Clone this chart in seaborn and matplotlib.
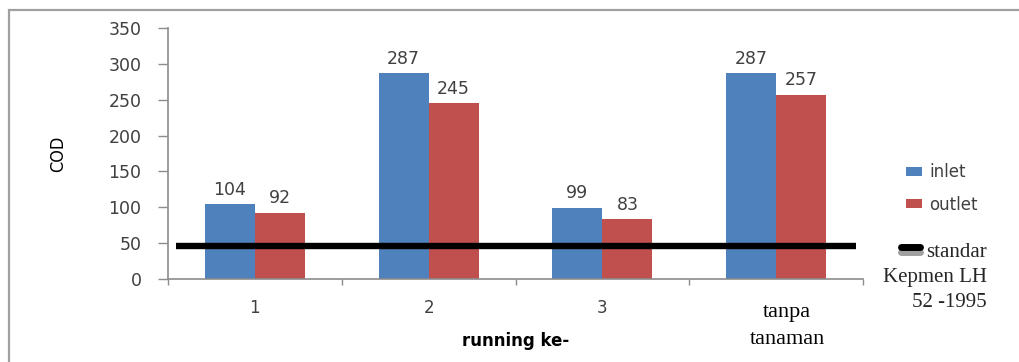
import matplotlib
matplotlib.use("Agg")
import matplotlib.pyplot as plt
import matplotlib.transforms as mtransforms
from matplotlib.lines import Line2D
from matplotlib.patches import Patch, Rectangle
import pandas as pd
import seaborn as sns

# COD measurements per run
runs = ["1", "2", "3", "tanpa\ntanaman"]
inlet = [104, 287, 99, 287]
outlet = [92, 245, 83, 257]
series_names = ["inlet", "outlet"]
standard_value = 46
standard_label = ["standar", "Kepmen LH", "52 -1995"]
y_ticks = [0, 50, 100, 150, 200, 250, 300, 350]

blue = "#4F81BD"
red = "#C0504D"
text_gray = "#404040"
axis_gray = "#8C8C8C"

df = pd.DataFrame({
    "running": runs * 2,
    "COD": inlet + outlet,
    "titik": [series_names[0]] * len(runs) + [series_names[1]] * len(runs),
})

sns.set_style("white")
plt.rcParams["font.family"] = ["DejaVu Sans"]

W, H = 1019, 362
fig = plt.figure(figsize=(W / 100, H / 100), dpi=100)
ax = fig.add_axes([168 / W, 1 - 278.5 / H, (863 - 168) / W, (278.5 - 28.3) / H])

sns.barplot(data=df, x="running", y="COD", hue="titik", order=runs,
            hue_order=series_names, palette=[blue, red], width=0.576,
            gap=0, saturation=1, linewidth=0, ax=ax, legend=False)

for cont in ax.containers:
    ax.bar_label(cont, padding=4, fontsize=12.5, color=text_gray)

# standard limit line
ax.plot([-0.455, 3.458], [standard_value, standard_value], color="black",
        lw=4.6, solid_capstyle="butt", clip_on=False, zorder=5)

ax.set_xlim(-0.5, 3.5)
ax.set_ylim(0, 350)
ax.set_yticks(y_ticks)
ax.tick_params(axis="y", which="major", length=7, width=1, color=axis_gray,
               direction="out", pad=12, labelsize=12.5, labelcolor=text_gray, left=True)

# category labels at centres, tick marks on boundaries
ax.set_xticks([-0.5, 0.5, 1.5, 2.5, 3.5])
ax.set_xticklabels([])
ax.set_xticks(range(len(runs)), minor=True)
ax.set_xticklabels(runs, minor=True)
ax.tick_params(axis="x", which="major", length=4, width=1, color=axis_gray,
               direction="out", bottom=True)
ax.tick_params(axis="x", which="minor", length=0, pad=15, labelsize=12,
               labelcolor=text_gray)
last = ax.get_xticklabels(minor=True)[-1]
last.set_fontfamily("Liberation Serif")
last.set_fontsize(16)
last.set_color("black")
last.set_linespacing(1.55)
last.set_transform(last.get_transform() +
                   mtransforms.ScaledTranslation(11 / 100, -4 / 100, fig.dpi_scale_trans))

for side in ["top", "right"]:
    ax.spines[side].set_visible(False)
for side in ["left", "bottom"]:
    ax.spines[side].set_color(axis_gray)
    ax.spines[side].set_linewidth(1.2)

ax.set_xlabel("running ke-", fontsize=12, fontweight="bold", color="black")
ax.xaxis.set_label_coords(0.5, -0.215)
ax.set_ylabel("COD", fontsize=13, fontstretch="condensed", color="black")
ax.yaxis.set_label_coords(-0.145, 0.5)

# legend for the two series
handles = [Patch(facecolor=blue, edgecolor="none", label=series_names[0]),
           Patch(facecolor=red, edgecolor="none", label=series_names[1])]
fig.legend(handles=handles, loc="center left",
           bbox_to_anchor=(906 / W, 1 - 188.5 / H), frameon=False,
           fontsize=12, labelcolor=text_gray, handlelength=0.95,
           handleheight=0.42, handletextpad=0.45, labelspacing=0.85,
           borderpad=0, borderaxespad=0)

# standard line key with its description
fig.add_artist(Line2D([901 / W, 920 / W], [1 - 252 / H, 1 - 252 / H],
                      transform=fig.transFigure, color="#A0A0A0", lw=5,
                      solid_capstyle="round"))
fig.add_artist(Line2D([901 / W, 920 / W], [1 - 246.5 / H, 1 - 246.5 / H],
                      transform=fig.transFigure, color="black", lw=5,
                      solid_capstyle="round"))
fig.text(926 / W, 1 - 257 / H, standard_label[0], family="Liberation Serif",
         fontsize=15, ha="left", va="baseline")
fig.text(987 / W, 1 - 282 / H, standard_label[1], family="Liberation Serif",
         fontsize=15, ha="right", va="baseline")
fig.text(987 / W, 1 - 307 / H, standard_label[2], family="Liberation Serif",
         fontsize=15, ha="right", va="baseline")

# outer chart frame
fig.add_artist(Rectangle((8.5 / W, -0.2), 1.2, 1 - 9.5 / H + 0.2,
                         transform=fig.transFigure, fill=False,
                         edgecolor="#A0A0A0", lw=1.6))

fig.savefig("out.png", dpi=100)
